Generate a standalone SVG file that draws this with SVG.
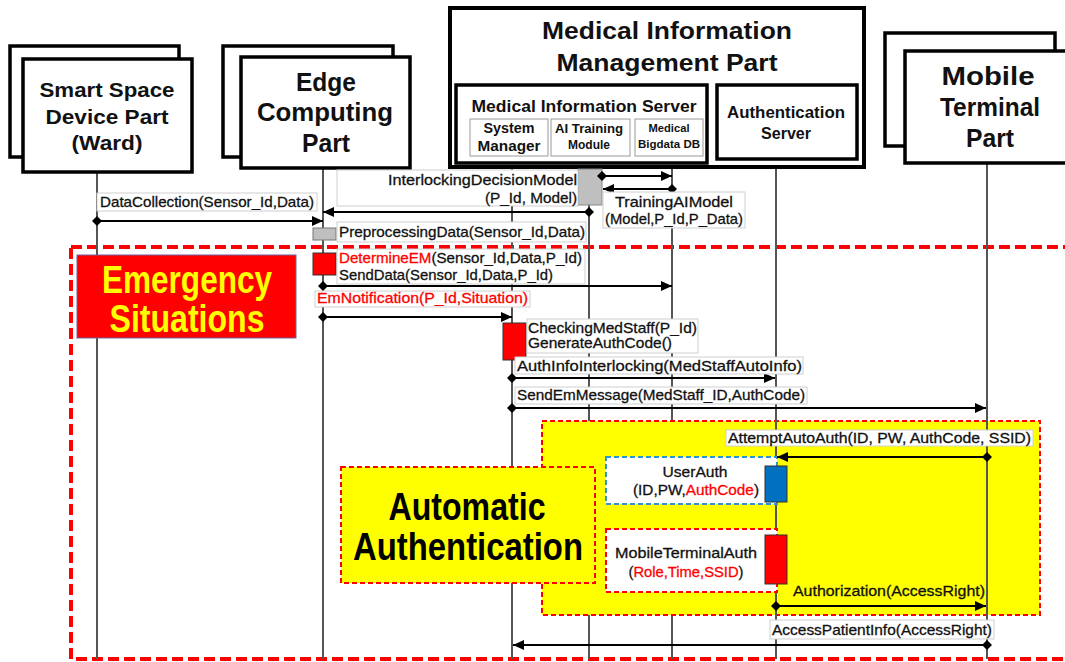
<svg xmlns="http://www.w3.org/2000/svg" width="1065" height="662" viewBox="0 0 1065 662">
<style>
.hb{fill:#fff;stroke:#000;stroke-width:3.5}
.ht{font-family:"Liberation Sans",Arial,sans-serif;font-weight:bold;fill:#111;text-anchor:middle}
.sb{fill:#fff;stroke:#999;stroke-width:1}
.life{stroke:#555;stroke-width:2;fill:none}
.msg{stroke:#000;stroke-width:2;fill:none;marker-start:url(#dia);marker-end:url(#arr)}
.lb{fill:#fff;stroke:#cfcfcf;stroke-width:1}
.lt{font-family:"Liberation Sans",Arial,sans-serif;font-size:15px;fill:#111;stroke:#111;stroke-width:0.3}
.red{fill:#ff0000;stroke:#ff0000}
.rt{fill:#ff0000;stroke:#ff0000}
.act{stroke:#333;stroke-width:1}
.big{font-family:"Liberation Sans Narrow","Liberation Sans",Arial,sans-serif;font-weight:bold;font-size:38px}
</style>
<defs>
<marker id="arr" markerUnits="userSpaceOnUse" markerWidth="12" markerHeight="10" refX="11" refY="5" orient="auto"><path d="M0,0 L11,5 L0,10 z" fill="#000"/></marker>
<marker id="dia" markerUnits="userSpaceOnUse" markerWidth="10" markerHeight="10" refX="5" refY="5" orient="auto"><path d="M0,5 L5,0 L10,5 L5,10 z" fill="#000"/></marker>
</defs>

<rect width="1065" height="662" fill="#fff"/>

<!-- emergency region border -->
<rect x="71" y="247" width="1010" height="412" fill="none" stroke="#ff0000" stroke-width="4" stroke-dasharray="11 5"/>

<!-- lifelines -->
<g id="lifelines">
<line class="life" x1="97" y1="172" x2="97" y2="659"/>
<line class="life" x1="323" y1="168" x2="323" y2="659"/>
<line class="life" x1="512" y1="167" x2="512" y2="659"/>
<line class="life" x1="589" y1="167" x2="589" y2="659"/>
<line class="life" x1="672" y1="167" x2="672" y2="659"/>
</g>

<!-- yellow automatic-auth region -->
<g id="auto-region">
<rect x="542" y="421" width="498" height="194" fill="#ffff00" stroke="#ff0000" stroke-width="2" stroke-dasharray="5 3"/>
</g>
<g id="auto-label">
<rect x="341" y="467" width="254" height="116" fill="#ffff00" stroke="#ff0000" stroke-width="2" stroke-dasharray="5 3"/>
<text class="big" x="467" y="520" text-anchor="middle" textLength="157" lengthAdjust="spacingAndGlyphs" fill="#000">Automatic</text>
<text class="big" x="468" y="560" text-anchor="middle" textLength="230" lengthAdjust="spacingAndGlyphs" fill="#000">Authentication</text>
</g>

<g id="lifelines2">
<line class="life" x1="776" y1="167" x2="776" y2="659"/>
<line class="life" x1="987" y1="163" x2="987" y2="659"/>
</g>

<!-- headers -->
<g id="smart-space">
<rect class="hb" x="10" y="46" width="169" height="111"/>
<rect class="hb" x="23" y="59" width="169" height="113"/>
<text class="ht" font-size="21" x="107" y="97" textLength="135" lengthAdjust="spacingAndGlyphs">Smart Space</text>
<text class="ht" font-size="21" x="107" y="124" textLength="123" lengthAdjust="spacingAndGlyphs">Device Part</text>
<text class="ht" font-size="21" x="107" y="150" textLength="71" lengthAdjust="spacingAndGlyphs">(Ward)</text>
</g>
<g id="edge">
<rect class="hb" x="223" y="46" width="170" height="111"/>
<rect class="hb" x="241" y="57" width="169" height="111"/>
<text class="ht" font-size="25" x="326" y="91" textLength="60" lengthAdjust="spacingAndGlyphs">Edge</text>
<text class="ht" font-size="25" x="325" y="121" textLength="136" lengthAdjust="spacingAndGlyphs">Computing</text>
<text class="ht" font-size="25" x="326" y="152" textLength="48" lengthAdjust="spacingAndGlyphs">Part</text>
</g>
<g id="medical-part">
<rect x="450" y="8" width="414" height="159" fill="#fff" stroke="#000" stroke-width="4"/>
<text class="ht" font-size="23" x="667" y="39" textLength="250" lengthAdjust="spacingAndGlyphs">Medical Information</text>
<text class="ht" font-size="23" x="667" y="71" textLength="221" lengthAdjust="spacingAndGlyphs">Management Part</text>
</g>
<g id="medical-server">
<rect x="456" y="85" width="251" height="78" fill="#fff" stroke="#000" stroke-width="3.5"/>
<text class="ht" font-size="16" x="584" y="112" textLength="225" lengthAdjust="spacingAndGlyphs">Medical Information Server</text>
</g>
<g id="system-manager">
<rect class="sb" x="470" y="119" width="78" height="37"/>
<text class="ht" font-size="14" x="509" y="133" textLength="51" lengthAdjust="spacingAndGlyphs">System</text>
<text class="ht" font-size="14" x="509" y="151" textLength="63" lengthAdjust="spacingAndGlyphs">Manager</text>
</g>
<g id="ai-training">
<rect class="sb" x="551" y="119" width="79" height="37"/>
<text class="ht" font-size="13" x="589" y="133" textLength="68" lengthAdjust="spacingAndGlyphs">AI Training</text>
<text class="ht" font-size="13" x="589" y="149" textLength="42" lengthAdjust="spacingAndGlyphs">Module</text>
</g>
<g id="bigdata-db">
<rect class="sb" x="635" y="119" width="68" height="37"/>
<text class="ht" font-size="11" x="669" y="132" textLength="41" lengthAdjust="spacingAndGlyphs">Medical</text>
<text class="ht" font-size="11" x="669" y="148" textLength="62" lengthAdjust="spacingAndGlyphs">Bigdata DB</text>
</g>
<g id="auth-server">
<rect x="717" y="85" width="140" height="74" fill="#fff" stroke="#000" stroke-width="3.5"/>
<text class="ht" font-size="17" x="786" y="118" textLength="118" lengthAdjust="spacingAndGlyphs">Authentication</text>
<text class="ht" font-size="17" x="786" y="139" textLength="50" lengthAdjust="spacingAndGlyphs">Server</text>
</g>
<g id="mobile">
<rect class="hb" x="885" y="33" width="170" height="113"/>
<rect class="hb" x="905" y="51" width="175" height="112"/>
<text class="ht" font-size="25" x="988" y="85" textLength="93" lengthAdjust="spacingAndGlyphs">Mobile</text>
<text class="ht" font-size="25" x="990" y="116" textLength="100" lengthAdjust="spacingAndGlyphs">Terminal</text>
<text class="ht" font-size="25" x="990" y="147" textLength="48" lengthAdjust="spacingAndGlyphs">Part</text>
</g>

<!-- emergency label -->
<g id="emergency-label">
<rect x="77" y="255" width="219" height="83" fill="#ff0000" stroke="#7060a0" stroke-width="1"/>
<text class="big" x="187" y="293" text-anchor="middle" textLength="170" lengthAdjust="spacingAndGlyphs" fill="#ffff00">Emergency</text>
<text class="big" x="187" y="332" text-anchor="middle" textLength="155" lengthAdjust="spacingAndGlyphs" fill="#ffff00">Situations</text>
</g>

<!-- auth sub-boxes -->
<g id="user-auth">
<rect x="606" y="457" width="171" height="47" fill="#fff" stroke="#2f95d0" stroke-width="2" stroke-dasharray="5 3"/>
<text class="lt" x="695" y="477" text-anchor="middle" textLength="65" lengthAdjust="spacingAndGlyphs">UserAuth</text>
<text class="lt" x="696" y="495" text-anchor="middle" textLength="126" lengthAdjust="spacingAndGlyphs">(ID,PW,<tspan class="rt">AuthCode</tspan>)</text>
</g>
<g id="mobile-terminal-auth">
<rect x="606" y="529" width="171" height="63" fill="#fff" stroke="#ff0000" stroke-width="2" stroke-dasharray="5 3"/>
<text class="lt" x="686" y="558" text-anchor="middle" textLength="142" lengthAdjust="spacingAndGlyphs">MobileTerminalAuth</text>
<text class="lt" x="686" y="577" text-anchor="middle" textLength="115" lengthAdjust="spacingAndGlyphs">(<tspan class="rt">Role,Time,SSID</tspan>)</text>
</g>

<!-- activations -->
<g id="activations">
<rect x="578" y="169" width="24" height="36" fill="#bfbfbf" stroke="#888" stroke-width="1"/>
<rect x="313" y="228" width="23" height="12" fill="#bfbfbf" stroke="#777" stroke-width="1"/>
<rect class="act" x="313" y="253" width="23" height="22" fill="#ff0000"/>
<rect class="act" x="503" y="323" width="23" height="37" fill="#ff0000"/>
<rect class="act" x="765" y="466" width="22" height="36" fill="#0070c0"/>
<rect class="act" x="765" y="535" width="22" height="49" fill="#ff0000"/>
</g>

<!-- connectors -->
<g id="connectors">
<line class="msg" x1="97" y1="221" x2="323" y2="221"/>
<line class="msg" x1="602" y1="176" x2="672" y2="176"/>
<line class="msg" x1="672" y1="189" x2="603" y2="189"/>
<line class="msg" x1="589" y1="212" x2="323" y2="212"/>
<line class="msg" x1="323" y1="286" x2="672" y2="286"/>
<line class="msg" x1="323" y1="317" x2="512" y2="317"/>
<line class="msg" x1="512" y1="378" x2="775" y2="378"/>
<line class="msg" x1="512" y1="408" x2="986" y2="408"/>
<line class="msg" x1="987" y1="457" x2="777" y2="457"/>
<line class="msg" x1="776" y1="606" x2="986" y2="606"/>
<line class="msg" x1="987" y1="645" x2="513" y2="645"/>
</g>

<!-- message labels -->
<g id="labels">
<rect class="lb" x="97" y="193" width="220" height="18"/>
<text class="lt" x="100" y="207" textLength="214" lengthAdjust="spacingAndGlyphs">DataCollection(Sensor_Id,Data)</text>

<rect class="lb" x="337" y="170" width="241" height="36"/>
<text class="lt" x="577" y="185" text-anchor="end" textLength="189" lengthAdjust="spacingAndGlyphs">InterlockingDecisionModel</text>
<text class="lt" x="577" y="203" text-anchor="end" textLength="92" lengthAdjust="spacingAndGlyphs">(P_Id, Model)</text>

<rect class="lb" x="603" y="192" width="142" height="36"/>
<text class="lt" x="674" y="207" text-anchor="middle" textLength="118" lengthAdjust="spacingAndGlyphs">TrainingAIModel</text>
<text class="lt" x="674" y="224" text-anchor="middle" textLength="138" lengthAdjust="spacingAndGlyphs">(Model,P_Id,P_Data)</text>

<rect class="lb" x="337" y="222" width="249" height="20"/>
<text class="lt" x="339" y="237" textLength="246" lengthAdjust="spacingAndGlyphs">PreprocessingData(Sensor_Id,Data)</text>

<rect class="lb" x="337" y="249" width="248" height="35"/>
<text class="lt" x="339" y="263" textLength="243" lengthAdjust="spacingAndGlyphs"><tspan class="rt">DetermineEM</tspan>(Sensor_Id,Data,P_Id)</text>
<text class="lt" x="339" y="280" textLength="214" lengthAdjust="spacingAndGlyphs">SendData(Sensor_Id,Data,P_Id)</text>

<rect class="lb" x="315" y="291" width="215" height="16"/>
<text class="lt red" x="317" y="303" textLength="211" lengthAdjust="spacingAndGlyphs">EmNotification(P_Id,Situation)</text>

<rect class="lb" x="527" y="319" width="171" height="34"/>
<text class="lt" x="528" y="333" textLength="169" lengthAdjust="spacingAndGlyphs">CheckingMedStaff(P_Id)</text>
<text class="lt" x="528" y="348" textLength="144" lengthAdjust="spacingAndGlyphs">GenerateAuthCode()</text>

<rect class="lb" x="515" y="357" width="288" height="17"/>
<text class="lt" x="517" y="371" textLength="285" lengthAdjust="spacingAndGlyphs">AuthInfoInterlocking(MedStaffAutoInfo)</text>

<rect class="lb" x="515" y="387" width="292" height="17"/>
<text class="lt" x="517" y="400" textLength="288" lengthAdjust="spacingAndGlyphs">SendEmMessage(MedStaff_ID,AuthCode)</text>

<rect class="lb" x="726" y="430" width="307" height="16"/>
<text class="lt" x="728" y="443" textLength="303" lengthAdjust="spacingAndGlyphs">AttemptAutoAuth(ID, PW, AuthCode, SSID)</text>

<text class="lt" x="793" y="596" textLength="192" lengthAdjust="spacingAndGlyphs">Authorization(AccessRight)</text>

<rect class="lb" x="770" y="620" width="224" height="19"/>
<text class="lt" x="772" y="635" textLength="220" lengthAdjust="spacingAndGlyphs">AccessPatientInfo(AccessRight)</text>
</g>
</svg>
